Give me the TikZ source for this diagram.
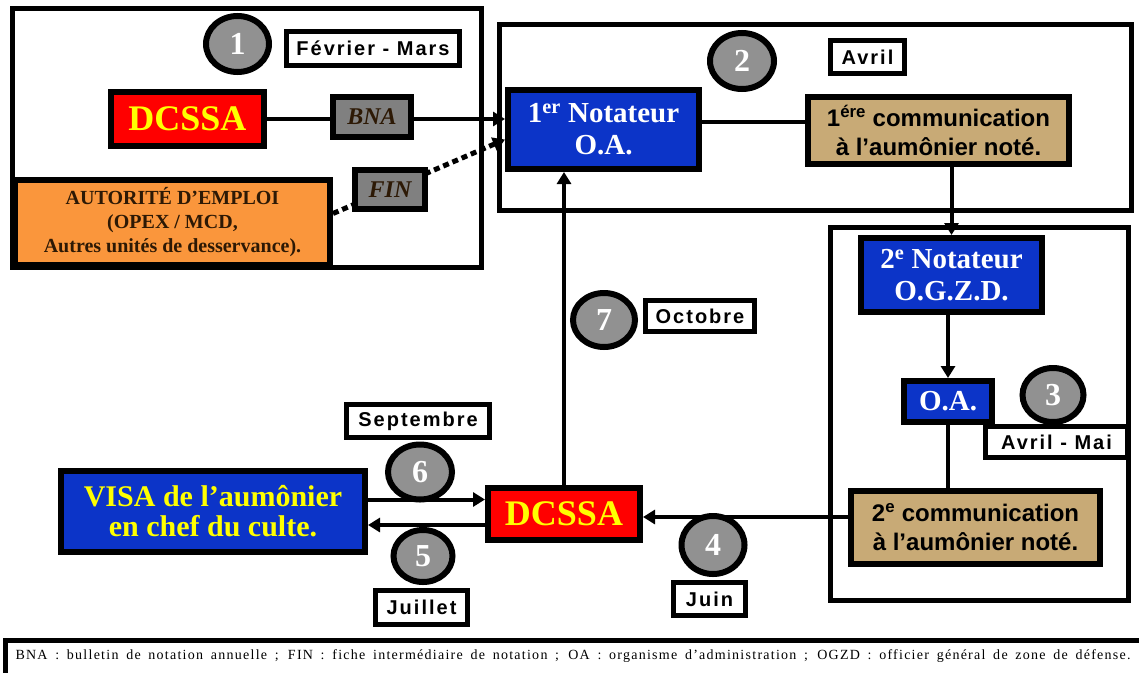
\documentclass[tikz,border=0pt]{standalone}
\usepackage{fontspec}
\setmainfont{Liberation Serif}
\setsansfont{Liberation Sans}
\newfontfamily\datefont[LetterSpace=10]{Liberation Sans}
\newfontfamily\legfont[LetterSpace=9]{Liberation Serif}
\usetikzlibrary{arrows.meta,shapes.geometric}
\definecolor{cred}{RGB}{255,0,0}
\definecolor{cyel}{RGB}{255,255,0}
\definecolor{cblue}{RGB}{12,52,200}
\definecolor{ctan}{RGB}{200,170,118}
\definecolor{corange}{RGB}{250,150,60}
\definecolor{cgrey}{RGB}{145,145,145}
\definecolor{cboxgrey}{RGB}{128,128,128}
\definecolor{cdark}{RGB}{45,25,5}
\pgfdeclarelayer{bg}
\pgfsetlayers{bg,main}
\begin{document}
\begin{tikzpicture}[x=1pt,y=-1pt,
 box/.style={draw=black, line width=6pt, inner sep=0pt, align=center},
 num/.style={ellipse, draw=black, line width=6pt, fill=cgrey, text=white, inner sep=0pt,
   font=\bfseries\fontsize{32}{32}\selectfont},
 datebox/.style={draw=black, line width=5pt, fill=white, inner sep=0pt,
   font=\datefont\bfseries\fontsize{20}{20}\selectfont},
 frame/.style={draw=black, line width=5pt},
 conn/.style={draw=black, line width=4pt},
 arr/.style={conn, -{Triangle[length=12pt,width=14pt]}},
 redbox/.style={box, fill=cred, text=cyel, font=\bfseries\fontsize{36}{36}\selectfont},
 bluebox/.style={box, fill=cblue, text=white, font=\bfseries\fontsize{29}{32}\selectfont},
 tanbox/.style={box, fill=ctan, text=black, font=\sffamily\bfseries\fontsize{24}{29}\selectfont},
 greybox/.style={box, fill=cboxgrey, text=cdark, font=\bfseries\itshape\fontsize{24}{24}\selectfont},
]
\useasboundingbox (0,0) rectangle (1139,672);

% frames
\draw[frame] (12.5,8) rectangle (481,267);
\draw[frame] (499,24) rectangle (1131,210);
\draw[frame] (830,227) rectangle (1128,600);
\draw[frame] (5,640) rectangle (1160,700);

% step 1
\node[num, minimum width=63, minimum height=56] (c1) at (237.5,44) {1};
\node[datebox, minimum width=173, minimum height=34] (feb) at (373,48.5) {Février - Mars};
\node[redbox, minimum width=153, minimum height=54] (dcssa1) at (187.5,119) {DCSSA};
\node[greybox, minimum width=78, minimum height=40] (bna) at (372,117) {BNA};
\node[box, fill=corange, text=cdark, minimum width=315, minimum height=85,
  font=\bfseries\fontsize{20}{24}\selectfont] (aut) at (172.5,222.5)
  {AUTORITÉ D’EMPLOI\\(OPEX / MCD,\\Autres unités de desservance).};
\node[greybox, minimum width=70, minimum height=39] (fin) at (390,189.5) {FIN};

% step 2
\node[bluebox, minimum width=191, minimum height=79] (n1) at (603.5,129.5)
  {1\textsuperscript{er} Notateur\\O.A.};
\node[num, minimum width=64, minimum height=56] (c2) at (742,61) {2};
\node[datebox, minimum width=74, minimum height=33] (avril) at (867.5,57) {Avril};
\node[tanbox, minimum width=261, minimum height=67] (tan1) at (938.5,130.5)
  {1\textsuperscript{ére} communication\\à l’aumônier noté.};

% step 3
\node[bluebox, minimum width=181, minimum height=74] (n2) at (951.5,275)
  {2\textsuperscript{e} Notateur\\O.G.Z.D.};
\node[bluebox, minimum width=88, minimum height=41] (oa) at (948,401.5) {O.A.};
\node[num, minimum width=61, minimum height=54] (c3) at (1053,395) {3};
\node[datebox, minimum width=142, minimum height=31] (avrilmai) at (1056.5,442) {Avril - Mai};
\node[tanbox, minimum width=249, minimum height=73] (tan2) at (975.5,527.5)
  {2\textsuperscript{e} communication\\à l’aumônier noté.};

% steps 4-7
\node[redbox, minimum width=152, minimum height=52] (dcssa2) at (564,514) {DCSSA};
\node[box, fill=cblue, text=cyel, minimum width=304, minimum height=81,
  font=\bfseries\fontsize{30}{30}\selectfont] (visa) at (213,511.5)
  {VISA de l’aumônier\\en chef du culte.};
\node[num, minimum width=63, minimum height=58] (c4) at (713,545) {4};
\node[datebox, minimum width=72, minimum height=33] (juin) at (709.5,599) {Juin};
\node[num, minimum width=59, minimum height=52] (c5) at (423,556) {5};
\node[datebox, minimum width=92, minimum height=34] (juil) at (421.5,607.5) {Juillet};
\node[num, minimum width=64, minimum height=55] (c6) at (420,472) {6};
\node[datebox, minimum width=143, minimum height=33] (sept) at (418,421) {Septembre};
\node[num, minimum width=62, minimum height=54] (c7) at (604,320) {7};
\node[datebox, minimum width=109, minimum height=31] (oct) at (700,316) {Octobre};

% legend
\node[font=\legfont\fontsize{14}{14}\selectfont, anchor=west] (leg) at (12,656)
  {\makebox[1115pt][s]{BNA : bulletin de notation annuelle ; FIN : fiche intermédiaire de notation ; OA : organisme d’administration ; OGZD : officier général de zone de défense.}};

% background and connectors
\begin{pgfonlayer}{bg}
\fill[white] (0,0) rectangle (1139,672);
\draw[arr] (dcssa1.east) -- (dcssa1.east -| n1.west);
\draw[arr, line width=5pt, dash pattern=on 6pt off 4pt] ([yshift=9pt]aut.east) -- ([yshift=-10pt]n1.west);
\draw[conn] ([yshift=7.5pt]n1.east) -- ([yshift=8.5pt]tan1.west);
\draw[arr] (n2.north |- tan1.south) -- (n2.north);
\draw[arr] (oa.north |- n2.south) -- (oa.north);
\draw[conn] (oa.south) -- (oa.south |- tan2.north);
\draw[arr] ([yshift=10.5pt]tan2.west) -- ([yshift=-3pt]dcssa2.east);
\draw[arr] ([yshift=12pt]visa.east) -- ([yshift=14.5pt]dcssa2.west);
\draw[arr] ([yshift=-11pt]dcssa2.west) -- ([yshift=-13.5pt]visa.east);
\draw[arr] (dcssa2.north) -- (dcssa2.north |- n1.south);
\end{pgfonlayer}
\end{tikzpicture}
\end{document}
